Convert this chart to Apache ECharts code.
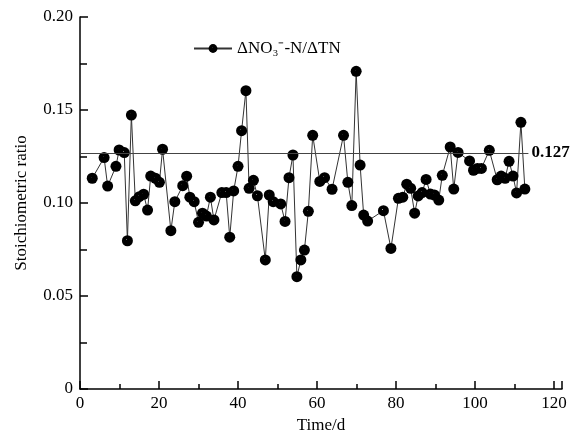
<!DOCTYPE html>
<html>
<head>
<meta charset="utf-8">
<script src="https://cdn.jsdelivr.net/npm/echarts@6/dist/echarts.min.js"></script>
<style>
  html, body { margin: 0; padding: 0; background: #fff; }
  #chart { width: 578px; height: 439px; }
</style>
</head>
<body>
<div id="chart"></div>
<script>
// days and ratio
var days = [3.1, 6.1, 7.0, 9.1, 9.9, 11.2, 12.0, 13.0, 14.0, 15.0, 16.1, 17.1, 17.9, 19.1, 20.1, 20.9,
  23.0, 24.0, 26.0, 27.0, 27.8, 28.9, 30.0, 31.0, 32.0, 33.0, 33.9, 35.9, 37.0, 37.9, 38.9, 40.0,
  40.9, 42.0, 42.8, 43.9, 44.9, 46.9, 47.9, 48.9, 50.8, 51.9, 52.9, 53.9, 54.9, 55.9, 56.8, 57.8,
  58.9, 60.7, 61.9, 63.8, 66.7, 67.8, 68.8, 69.9, 70.9, 71.8, 72.8, 76.8, 78.7, 80.6, 81.7, 82.7,
  83.7, 84.7, 85.6, 86.6, 87.6, 88.7, 89.7, 90.8, 91.7, 93.7, 94.6, 95.7, 98.6, 99.6, 100.6, 101.6,
  103.6, 105.6, 106.6, 107.6, 108.6, 109.6, 110.5, 111.6, 112.6];
var ratio = [0.1133, 0.1244, 0.1091, 0.1197, 0.1285, 0.1271, 0.0797, 0.1473, 0.1012, 0.1034, 0.1047, 0.0962, 0.1145, 0.1133, 0.1111, 0.1289,
  0.0851, 0.1007, 0.1093, 0.1144, 0.1031, 0.1007, 0.0896, 0.0945, 0.0930, 0.1031, 0.0909, 0.1056, 0.1056, 0.0816, 0.1065, 0.1197,
  0.1389, 0.1604, 0.1079, 0.1122, 0.1039, 0.0694, 0.1043, 0.1007, 0.0995, 0.0901, 0.1136, 0.1258, 0.0604, 0.0694, 0.0747, 0.0955,
  0.1364, 0.1116, 0.1136, 0.1074, 0.1364, 0.1111, 0.0986, 0.1708, 0.1204, 0.0935, 0.0903, 0.0959, 0.0756, 0.1025, 0.1031, 0.1101,
  0.1079, 0.0945, 0.1038, 0.1056, 0.1127, 0.1048, 0.1043, 0.1016, 0.1149, 0.1301, 0.1075, 0.1272, 0.1226, 0.1176, 0.1186, 0.1186,
  0.1283, 0.1125, 0.1145, 0.1133, 0.1224, 0.1145, 0.1054, 0.1434, 0.1075];
var meanRatio = 0.127;
var seriesName = 'ΔNO₃⁻-N/ΔTN';

var font = 'Liberation Serif';
var chart = echarts.init(document.getElementById('chart'));

var pts = days.map(function (d, i) { return [d, ratio[i]]; });

chart.setOption({
  animation: false,
  backgroundColor: '#fff',
  textStyle: { fontFamily: font, color: '#000' },
  grid: { left: 80, right: 16, top: 17, bottom: 50 },
  legend: {
    left: 188, top: 35,
    itemWidth: 38, itemHeight: 11, itemGap: 6,
    textStyle: { fontFamily: font, fontSize: 17, color: '#000' },
    data: [seriesName]
  },
  xAxis: {
    type: 'value', min: 0, max: 122, interval: 20,
    name: 'Time/d', nameLocation: 'middle', nameGap: 28,
    nameTextStyle: { fontFamily: font, fontSize: 17, color: '#000' },
    axisLine: { lineStyle: { color: '#000', width: 1.5 } },
    axisTick: { inside: true, length: 8, lineStyle: { color: '#000', width: 1.5 } },
    minorTick: { show: true, splitNumber: 2, length: 5, lineStyle: { color: '#000', width: 1.5 } },
    axisLabel: { showMaxLabel: false, fontFamily: font, fontSize: 17, color: '#000', margin: 6 },
    splitLine: { show: false }
  },
  yAxis: {
    type: 'value', min: 0, max: 0.2, interval: 0.05,
    name: 'Stoichiometric ratio', nameLocation: 'middle', nameGap: 50,
    nameTextStyle: { fontFamily: font, fontSize: 17, color: '#000' },
    axisLine: { lineStyle: { color: '#000', width: 1.5 } },
    axisTick: { inside: true, length: 8, lineStyle: { color: '#000', width: 1.5 } },
    minorTick: { show: true, splitNumber: 2, length: 7, lineStyle: { color: '#000', width: 1.5 } },
    axisLabel: {
      fontFamily: font, fontSize: 17, color: '#000', margin: 7,
      formatter: function (v) { return v === 0 ? '0' : v.toFixed(2); }
    },
    splitLine: { show: false }
  },
  series: [{
    name: seriesName,
    type: 'line',
    data: pts,
    symbol: 'circle',
    symbolSize: 11,
    lineStyle: { color: '#333', width: 1 },
    itemStyle: {
      color: {
        type: 'radial', x: 0.42, y: 0.4, r: 0.5,
        colorStops: [
          { offset: 0, color: '#ccc' },
          { offset: 0.05, color: '#222' },
          { offset: 0.1, color: '#000' },
          { offset: 1, color: '#000' }
        ]
      },
      borderWidth: 0
    },
    markLine: {
      silent: true,
      symbol: 'none',
      lineStyle: { color: '#444', width: 1, type: 'solid' },
      label: {
        show: true, position: 'end', formatter: String(meanRatio),
        fontFamily: font, fontSize: 17, fontWeight: 'bold', color: '#000', distance: 3
      },
      data: [[{ coord: [0, meanRatio] }, { coord: [113.5, meanRatio] }]]
    }
  }]
});
</script>
</body>
</html>
